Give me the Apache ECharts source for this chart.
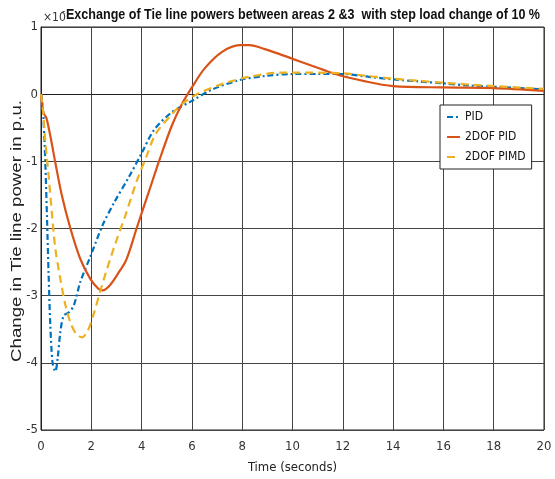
<!DOCTYPE html>
<html><head><meta charset="utf-8">
<script src="https://cdn.jsdelivr.net/npm/echarts@6/dist/echarts.min.js"></script>
<style>html,body{margin:0;padding:0;background:#fff}#c{width:555px;height:479px}</style>
</head><body><div id="c"></div>
<script>
const titleText = 'Exchange of Tie line powers between areas 2 &3  with step load change of 10 %';
const xName = 'Time (seconds)';
const yName = 'Change in Tie line power in p.u.';
const seriesNames = ['PID', '2DOF PID', '2DOF PIMD'];

const timePID = [0, 0.04, 0.1, 0.17, 0.24, 0.3, 0.37, 0.46, 0.57, 0.66, 0.77, 0.9, 1.1, 1.3, 1.56, 1.96, 2.45, 2.9, 3.5, 4.0, 4.5, 5.2, 6.0, 6.8, 7.9, 8.9, 10, 11, 12, 13, 14, 15, 16, 17, 18, 19, 20];
const valPID  = [0, -0.1, -0.37, -1.0, -1.86, -2.65, -3.44, -4.0, -4.13, -3.94, -3.54, -3.3, -3.25, -3.15, -2.8, -2.42, -1.95, -1.62, -1.23, -0.88, -0.53, -0.27, -0.1, 0.07, 0.21, 0.27, 0.30, 0.30, 0.30, 0.26, 0.22, 0.19, 0.16, 0.13, 0.11, 0.09, 0.07];

const time2DOF = [0, 0.05, 0.1, 0.21, 0.37, 0.57, 0.83, 1.17, 1.56, 1.96, 2.29, 2.45, 2.75, 3.15, 3.35, 3.55, 3.8, 4.3, 4.7, 5.2, 5.6, 6.0, 6.5, 7.2, 7.9, 8.3, 8.9, 9.9, 10.8, 11.7, 12.9, 14, 16, 18, 20];
const val2DOF  = [0, -0.15, -0.28, -0.35, -0.62, -1.02, -1.51, -2.0, -2.45, -2.75, -2.9, -2.92, -2.84, -2.62, -2.5, -2.3, -2.0, -1.44, -0.99, -0.47, -0.15, 0.1, 0.38, 0.63, 0.73, 0.73, 0.67, 0.54, 0.42, 0.3, 0.19, 0.12, 0.10, 0.09, 0.05];

const timePIMD = [0, 0.08, 0.17, 0.3, 0.44, 0.57, 0.77, 0.97, 1.17, 1.4, 1.63, 1.85, 2.09, 2.36, 2.56, 2.96, 3.36, 3.8, 4.2, 4.56, 5.2, 5.6, 6.2, 7.2, 8.3, 9.5, 10.8, 12, 13, 14, 16, 18, 20];
const valPIMD  = [0, -0.25, -0.7, -1.2, -1.8, -2.3, -2.75, -3.14, -3.4, -3.57, -3.62, -3.53, -3.28, -2.93, -2.68, -2.22, -1.8, -1.3, -0.92, -0.59, -0.3, -0.15, 0, 0.15, 0.26, 0.32, 0.32, 0.31, 0.27, 0.23, 0.17, 0.12, 0.08];

const pairs = (t, v) => t.map((x, i) => [x, v[i]]);
const narrow = '"DejaVu Sans Condensed", "Liberation Sans Narrow", "Arial Narrow", "Liberation Sans", sans-serif';
const sans = '"Liberation Sans", Arial, sans-serif';

// measure text to compute a horizontal squish matching the reference's aspect
const mctx = document.createElement('canvas').getContext('2d');
function textWidth(font, txt) { mctx.font = font; return mctx.measureText(txt).width; }
const titleFont = 'bold 15px ' + sans;
const titleScale = 474 / textWidth(titleFont, titleText);
const yNameFont = '15px ' + sans;
const yNameScale = 262 / textWidth(yNameFont, yName);

const chart = echarts.init(document.getElementById('c'), null, {renderer: 'canvas'});
chart.setOption({
  animation: false,
  backgroundColor: '#fff',
  graphic: [{
    type: 'text', x: 43, y: 18, z: 5,
    style: {text: '×10', font: '12px ' + narrow, fill: '#333', textAlign: 'left', textVerticalAlign: 'middle'}
  }, {
    type: 'text', x: 62, y: 11, z: 5,
    style: {text: '-', font: '10px ' + narrow, fill: '#333', textAlign: 'left', textVerticalAlign: 'middle'}
  }, {
    type: 'text', x: 66, y: 15, z: 6, scaleX: titleScale,
    style: {text: titleText, font: titleFont, fill: '#111', textAlign: 'left', textVerticalAlign: 'middle'}
  }, {
    type: 'text', x: 17, y: 231, z: 6, rotation: Math.PI / 2, scaleX: yNameScale,
    style: {text: yName, font: yNameFont, fill: '#222', textAlign: 'center', textVerticalAlign: 'middle'}
  }],
  legend: {
    orient: 'vertical', left: 440, top: 105,
    backgroundColor: '#fff', borderColor: '#222', borderWidth: 1,
    padding: [6, 6, 6, 6], itemGap: 8, itemWidth: 13, itemHeight: 12,
    itemStyle: {opacity: 0},
    textStyle: {fontFamily: narrow, fontSize: 12, color: '#111'},
    data: seriesNames
  },
  grid: {left: 41, right: 11, top: 27, bottom: 49, show: true, borderColor: '#222', borderWidth: 1, containLabel: false, outerBoundsMode: 'none'},
  xAxis: {
    type: 'value', min: 0, max: 20, interval: 2,
    name: xName, nameLocation: 'middle', nameGap: 31,
    nameTextStyle: {fontFamily: narrow, fontSize: 13, color: '#222'},
    axisLine: {show: true, lineStyle: {color: '#222'}},
    axisTick: {show: false},
    axisLabel: {fontFamily: narrow, fontSize: 13, color: '#333', margin: 10},
    splitLine: {show: true, lineStyle: {color: '#444', width: 1}}
  },
  yAxis: {
    type: 'value', min: -5, max: 1, interval: 1,
    axisLine: {show: true, lineStyle: {color: '#222'}},
    axisTick: {show: false},
    axisLabel: {fontFamily: narrow, fontSize: 13, color: '#333', margin: 3},
    splitLine: {show: true, lineStyle: {color: '#444', width: 1}}
  },
  series: [{
    name: seriesNames[0], type: 'line', data: pairs(timePID, valPID),
    showSymbol: false, symbol: 'none', smooth: 0.3,
    lineStyle: {color: '#0072BD', width: 2.2, type: [6, 3, 2, 3]},
    itemStyle: {color: '#0072BD'}
  }, {
    name: seriesNames[1], type: 'line', data: pairs(time2DOF, val2DOF),
    showSymbol: false, symbol: 'none', smooth: 0.3,
    lineStyle: {color: '#D95319', width: 2.2, type: 'solid'},
    itemStyle: {color: '#D95319'}
  }, {
    name: seriesNames[2], type: 'line', data: pairs(timePIMD, valPIMD),
    showSymbol: false, symbol: 'none', smooth: 0.3,
    lineStyle: {color: '#EDB120', width: 2.2, type: [8, 5]},
    itemStyle: {color: '#EDB120'}
  }]
});
</script></body></html>
